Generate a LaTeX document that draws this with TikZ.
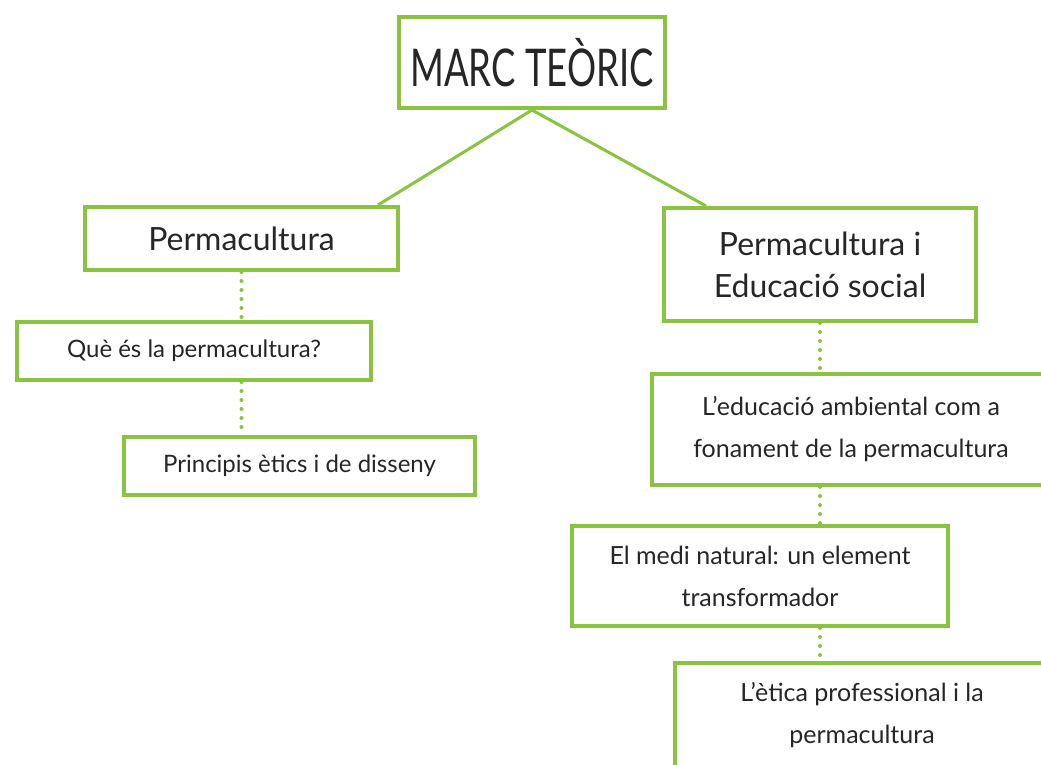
\documentclass[tikz,border=0pt]{standalone}
\usepackage{fontspec}
\setmainfont{Lato}
\newfontfamily\titlefont[FakeStretch=0.7]{Lato}
\definecolor{leaf}{RGB}{137,196,64}
\tikzset{
  box/.style={draw=leaf, line width=2pt, fill=white, align=center, inner sep=0pt, text=black!85},
  branch/.style={draw=leaf, line width=1.5pt},
  dots/.style={draw=leaf, line width=2pt, line cap=round, dash pattern=on 0pt off 4.5pt}
}
\begin{document}
\begin{tikzpicture}[x=0.5pt,y=-0.5pt]
  \useasboundingbox[fill=white] (0,0) rectangle (1041,765);

  % Titol
  \node[box, minimum width=133pt, minimum height=45.5pt, font=\titlefont\fontsize{26}{30}\selectfont] (marc) at (532,62.5) {MARC TEÒRIC};

  % Blocs principals
  \node[box, minimum width=156.5pt, minimum height=31.5pt, font=\fontsize{16}{19}\selectfont] (perm) at (241.5,238.5) {Permacultura};
  \node[box, minimum width=156pt, minimum height=56.5pt, font=\fontsize{16}{21}\selectfont] (social) at (820,264.5) {Permacultura i\\Educació social};

  % Branca esquerra
  \node[box, minimum width=177pt, minimum height=29pt, font=\fontsize{12}{15}\selectfont] (que) at (194,351) {Què és la permacultura?};
  \node[box, minimum width=175.5pt, minimum height=29pt, font=\fontsize{12}{15}\selectfont] (princ) at (299.5,466) {Principis ètics i de disseny};

  % Branca dreta
  \node[box, minimum width=199pt, minimum height=55.5pt, font=\fontsize{12.5}{21}\selectfont] (amb) at (851,429.5) {L’educació ambiental com a\\fonament de la permacultura};
  \node[box, minimum width=188pt, minimum height=50pt, font=\fontsize{12.5}{21}\selectfont] (medi) at (760,576) {El medi natural: un element\\transformador};
  \node[box, minimum width=187pt, minimum height=52pt, font=\fontsize{12.5}{21}\selectfont] (etica) at (862,715) {L’ètica professional i la\\permacultura};

  % Linies
  \draw[branch] (marc.south) -- ([xshift=-11pt]perm.north east);
  \draw[branch] (marc.south) -- ([xshift=22pt]social.north west);

  % Punts
  \draw[dots] (perm.south) -- (perm.south |- que.north);
  \draw[dots] (que.south -| perm.south) -- (princ.north -| perm.south);
  \draw[dots] (social.south) -- (social.south |- amb.north);
  \draw[dots] (amb.south -| social.south) -- (medi.north -| social.south);
  \draw[dots] (medi.south -| social.south) -- (etica.north -| social.south);
\end{tikzpicture}
\end{document}
